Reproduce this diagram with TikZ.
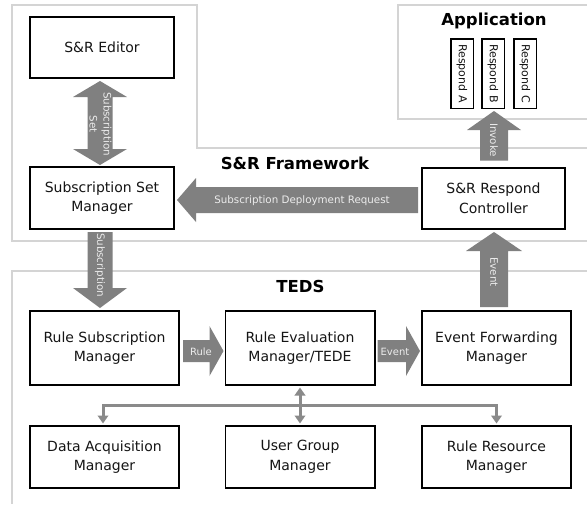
\documentclass[tikz,border=0pt]{standalone}
\usepackage{fontspec}
\setmainfont{DejaVu Sans}
\usetikzlibrary{calc,arrows.meta}

\definecolor{fatgray}{HTML}{808080}
\definecolor{linkgray}{HTML}{8A8A8A}
\definecolor{framegray}{HTML}{D4D4D4}
\definecolor{lblgray}{HTML}{ECECEC}
\definecolor{ink}{HTML}{151515}

% Block arrow from #1 (tail) to #2 (tip): half shaft #3, half head #4, head length #5
\newcommand\fatarrow[5]{%
  \path (#1) coordinate (fa-a) (#2) coordinate (fa-b);
  \path ($(fa-b)!#5!(fa-a)$) coordinate (fa-h);
  \fill[fat] ($(fa-a)!#3!90:(fa-b)$) -- ($(fa-h)!#3!90:(fa-b)$)
    -- ($(fa-h)!#4!90:(fa-b)$) -- (fa-b) -- ($(fa-h)!#4!-90:(fa-b)$)
    -- ($(fa-h)!#3!-90:(fa-b)$) -- ($(fa-a)!#3!-90:(fa-b)$) -- cycle;}

% Block arrow with heads at both ends
\newcommand\fatdarrow[5]{%
  \path (#1) coordinate (fd-a) (#2) coordinate (fd-b);
  \path ($(fd-a)!#5!(fd-b)$) coordinate (fd-h1) ($(fd-b)!#5!(fd-a)$) coordinate (fd-h2);
  \fill[fat] (fd-a) -- ($(fd-h1)!#4!90:(fd-b)$) -- ($(fd-h1)!#3!90:(fd-b)$)
    -- ($(fd-h2)!#3!90:(fd-b)$) -- ($(fd-h2)!#4!90:(fd-b)$) -- (fd-b)
    -- ($(fd-h2)!#4!-90:(fd-b)$) -- ($(fd-h2)!#3!-90:(fd-b)$)
    -- ($(fd-h1)!#3!-90:(fd-b)$) -- ($(fd-h1)!#4!-90:(fd-b)$) -- cycle;}

\begin{document}
\begin{tikzpicture}[x=1pt,y=-1pt,
  box/.style={draw=black, line width=1.7pt, fill=white, text=ink, align=center,
    font=\fontsize{14}{19.5}\selectfont, inner sep=0pt},
  wide/.style={box, minimum width=149.3pt},
  region/.style={draw=framegray, line width=1.2pt},
  title/.style={font=\bfseries\fontsize{16.5}{20}\selectfont, text=black},
  arrowlabel/.style={text=lblgray, font=\fontsize{10.3}{14}\selectfont, align=center, inner sep=0pt},
  fat/.style={fill=fatgray},
  link/.style={draw=linkgray, line width=3pt, line join=miter},
  resp/.style={draw=black, line width=1.5pt, rotate=-90, minimum width=69.5pt,
    minimum height=22.5pt, text=ink, font=\fontsize{11}{13}\selectfont, inner sep=0pt}]

\fill[white] (0,0) rectangle (587,504);
\useasboundingbox (0,0) rectangle (587,504);

% grouping regions
\draw[region] (587,148) -- (197,148) -- (197,5) -- (12,5) -- (12,241) -- (587,241);
\draw[region] (587,5) -- (398,5) -- (398,119) -- (587,119);
\draw[region] (587,271) -- (12,271) -- (12,504);

\node[title] (apptitle) at (494,21) {Application};
\node[title] (fwtitle) at (295,163) {S\&R Framework};
\node[title] (tedstitle) at (300.5,286) {TEDS};

% application responders (rotated: east anchor is the lower edge)
\node[resp] (ra) at (462,73.5) {Respond A};
\node[resp] (rb) at (493,73.5) {Respond B};
\node[resp] (rc) at (525,73.5) {Respond C};

% framework components
\node[box, minimum width=144.3pt, minimum height=61.3pt] (editor) at (102,47.5) {S\&R Editor};
\node[box, minimum width=144.3pt, minimum height=62.3pt] (ssm) at (102,198) {Subscription Set\\Manager};
\node[box, minimum width=143.3pt, minimum height=61.3pt] (src) at (493.5,198.5) {S\&R Respond\\Controller};

% TEDS components
\node[wide, minimum height=74.3pt] (rsm) at (104.5,348) {Rule Subscription\\Manager};
\node[wide, minimum height=74.3pt] (rem) at (300,348) {Rule Evaluation\\Manager/TEDE};
\node[wide, minimum height=74.3pt] (efm) at (496.5,348) {Event Forwarding\\Manager};
\node[wide, minimum height=62.3pt] (dam) at (104.5,457) {Data Acquisition\\Manager};
\node[wide, minimum height=62.3pt] (ugm) at (300,457) {User Group\\Manager};
\node[wide, minimum height=62.3pt] (rrm) at (496.5,457) {Rule Resource\\Manager};

% block arrows
\fatdarrow{$(editor.south)+(-2,2)$}{$(ssm.north)+(-2,-1)$}{12.5pt}{27pt}{16pt}
\node[arrowlabel, rotate=-90] (lset) at (100.5,124) {Subscription\\Set};

\fatarrow{$(src.west)+(-3,1.5)$}{$(ssm.east)+(2,2)$}{13pt}{22pt}{19pt}
\node[arrowlabel] (ldeploy) at (302,201) {Subscription Deployment Request};

\fatarrow{$(src.north)+(0.5,-6.5)$}{$(rb.east)+(1,2)$}{14pt}{27pt}{19pt}
\node[arrowlabel, rotate=-90] (linvoke) at (494,140) {Invoke};

\fatarrow{$(efm.north)+(-2.5,-3)$}{$(src.south)+(0.5,2)$}{14pt}{28pt}{19pt}
\node[arrowlabel, rotate=-90] (levent) at (494,272) {Event};

\fatarrow{$(ssm.south)+(-2,2)$}{$(rsm.north)+(-4.5,-2)$}{12.5pt}{27pt}{20pt}
\node[arrowlabel, rotate=-90] (lsub) at (100,265) {Subscription};

\fatarrow{$(rsm.east)+(3,3)$}{$(rem.west)+(-1,3)$}{11pt}{25pt}{14pt}
\node[arrowlabel, font=\fontsize{10}{12}\selectfont] (lrule) at (201,352) {Rule};

\fatarrow{$(rem.east)+(2,3)$}{$(efm.west)+(-1,3)$}{11pt}{25pt}{14pt}
\node[arrowlabel, font=\fontsize{10}{12}\selectfont] (levt) at (395,352) {Event};

% resource links
\coordinate (bus) at (300,405);
\draw[link, {Triangle[width=10.5pt,length=8pt]}-{Triangle[width=10.5pt,length=8pt]}]
  ($(dam.north)+(-1.5,-1.5)$) |- (bus -| rrm.north) -- ($(rrm.north)+(0,-1.5)$);
\draw[link, {Triangle[width=10.5pt,length=8pt]}-{Triangle[width=10.5pt,length=8pt]}]
  ($(rem.south)+(0,1.5)$) -- ($(ugm.north)+(0,-1.5)$);

\end{tikzpicture}
\end{document}
